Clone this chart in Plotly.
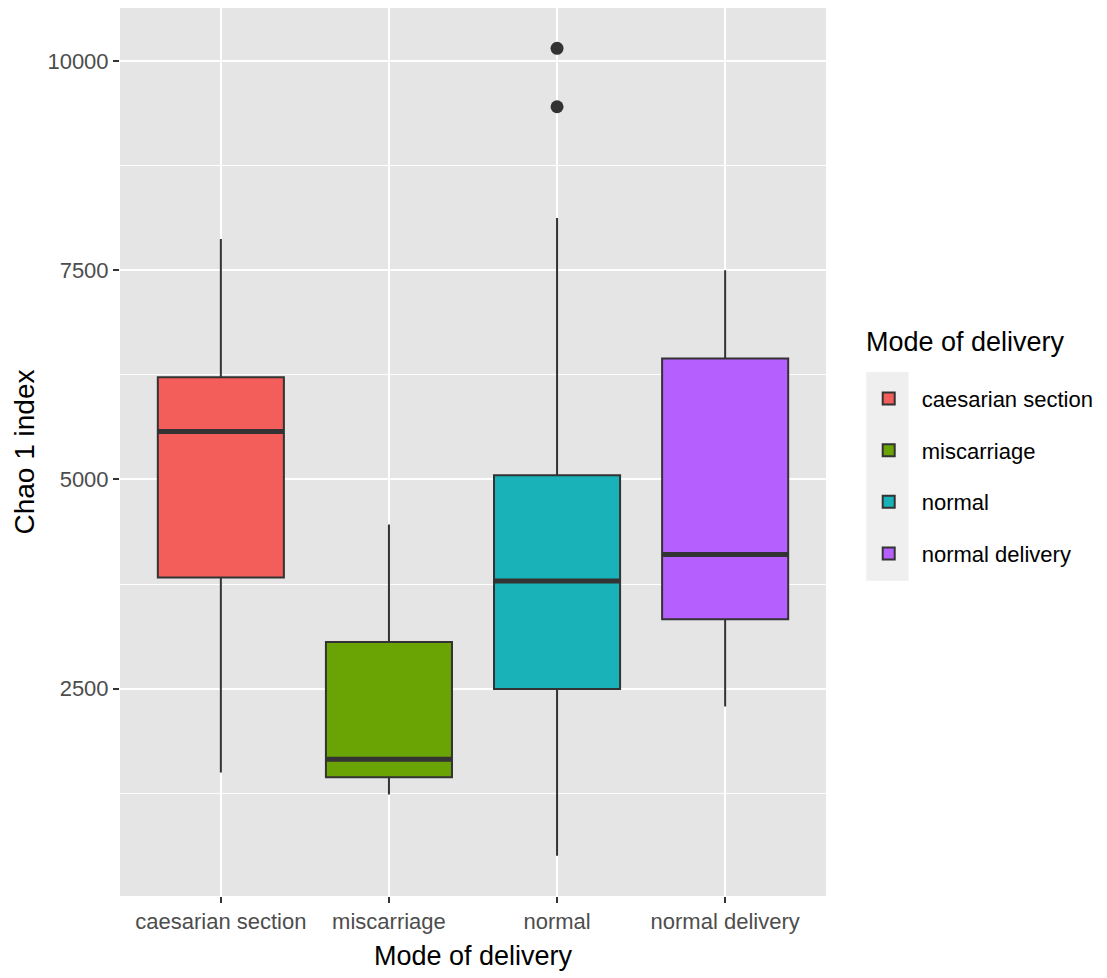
import plotly.graph_objects as go

# Chao 1 richness summary per delivery mode
categories = ["caesarian section", "miscarriage", "normal", "normal delivery"]
lower_whisker = [1500, 1235, 505, 2288]
q1_values = [3829, 1442, 2496, 3330]
medians = [5572, 1658, 3788, 4104]
q3_values = [6223, 3058, 5050, 6445]
upper_whisker = [7874, 4463, 8126, 7499]
outlier_group = ["normal", "normal"]
outlier_values = [10152, 9454]
y_ticks = [2500, 5000, 7500, 10000]

fill_colors = ["#F35E5A", "#6AA304", "#18B2B8", "#B65FFF"]
edge = "#333333"
box_width = 0.75

tick_font = dict(family="Liberation Sans, Arial", size=22, color="#4D4D4D")
title_font = dict(family="Liberation Sans, Arial", size=27, color="black")

fig = go.Figure()

for i, cat in enumerate(categories):
    fig.add_trace(go.Box(
        x=[i],
        q1=[q1_values[i]],
        median=[medians[i]],
        q3=[q3_values[i]],
        lowerfence=[lower_whisker[i]],
        upperfence=[upper_whisker[i]],
        name=cat,
        legendgroup=cat,
        width=box_width,
        whiskerwidth=0,
        fillcolor=fill_colors[i],
        line=dict(color=edge, width=2),
        boxpoints=False,
        hoverinfo="skip",
    ))
    # thicker median bar drawn over the box
    fig.add_shape(
        type="line", xref="x", yref="y", layer="above",
        x0=i - box_width / 2, x1=i + box_width / 2,
        y0=medians[i], y1=medians[i],
        line=dict(color=edge, width=5),
    )

fig.add_trace(go.Scatter(
    x=[categories.index(g) for g in outlier_group],
    y=outlier_values,
    mode="markers",
    marker=dict(color=edge, size=13),
    showlegend=False,
    hoverinfo="skip",
))

# grey background behind the legend keys
fig.add_shape(
    type="rect", xref="paper", yref="paper", layer="below",
    x0=1.057, x1=1.117, y0=0.355, y1=0.59,
    fillcolor="#EFEFEF", line=dict(width=0),
)

# legend heading
fig.add_annotation(
    text="Mode of delivery", xref="paper", yref="paper",
    x=1.054, y=0.624, xanchor="left", yanchor="middle",
    showarrow=False, font=title_font,
)

fig.update_layout(
    width=1107,
    height=978,
    margin=dict(l=120, r=281, t=8, b=82),
    paper_bgcolor="white",
    plot_bgcolor="#E5E5E5",
    showlegend=True,
    boxmode="overlay",
    legend=dict(
        font=dict(family="Liberation Sans, Arial", size=22, color="black"),
        xref="container", yref="container",
        x=0.773, xanchor="left",
        y=0.513, yanchor="middle",
        bgcolor="rgba(0,0,0,0)",
        itemwidth=56,
        tracegroupgap=20,
    ),
    xaxis=dict(
        range=[-0.6, len(categories) - 0.4],
        tickmode="array",
        tickvals=list(range(len(categories))),
        ticktext=categories,
        tickfont=tick_font,
        ticks="outside", ticklen=6, tickwidth=2, tickcolor=edge,
        showgrid=True, gridcolor="white", gridwidth=2,
        zeroline=False, showline=False,
        title=dict(text="Mode of delivery", font=title_font, standoff=12),
    ),
    yaxis=dict(
        range=[23, 10634],
        tickmode="array",
        tickvals=y_ticks,
        ticktext=[str(v) for v in y_ticks],
        tickfont=tick_font,
        ticks="outside", ticklen=6, tickwidth=2, tickcolor=edge,
        showgrid=True, gridcolor="white", gridwidth=2,
        minor=dict(tick0=0, dtick=1250, showgrid=True, gridcolor="white", gridwidth=1, ticks=""),
        zeroline=False, showline=False,
        title=dict(text="Chao 1 index", font=dict(family="Liberation Sans, Arial", size=28, color="black"), standoff=4),
    ),
)

fig.write_html("out.html")
